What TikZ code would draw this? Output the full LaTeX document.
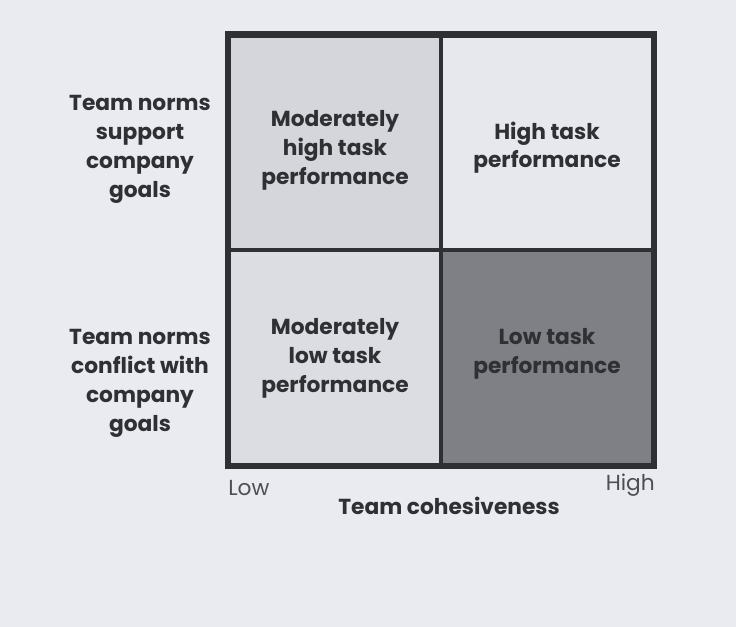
\documentclass[tikz,border=0pt]{standalone}
\usepackage{fontspec}
\setmainfont{Poppins}
\usetikzlibrary{positioning}

\definecolor{paper}{HTML}{E9EBF1}
\definecolor{inkgray}{HTML}{2F3033}
\definecolor{celltl}{HTML}{D4D6DB}
\definecolor{celltr}{HTML}{E6E8ED}
\definecolor{cellbl}{HTML}{DBDDE2}
\definecolor{cellbr}{HTML}{7E8085}

\begin{document}
\begin{tikzpicture}[x=0.75pt,y=-0.75pt,
  % 格子的style
  cell/.style={draw=inkgray,line width=3pt,minimum width=212pt*0.75,minimum height=214.5pt*0.75},
  % 格子里、左边和下面的文字
  side label/.style={align=center,text=inkgray,font=\bfseries\fontsize{16.3}{21.6}\selectfont},
  end label/.style={text=inkgray!85,font=\fontsize{16.3}{20}\selectfont}]

  % 背景
  \fill[paper] (0,0) rectangle (736,627);
  \useasboundingbox (0,0) rectangle (736,627);

  % 四个格子
  \node[cell,fill=celltl] (modhigh) at (335,143) {};
  \node[cell,fill=celltr] (high) at (547,143) {};
  \node[cell,fill=cellbl] (modlow) at (335,357.5) {};
  \node[cell,fill=cellbr] (low) at (547,357.5) {};

  % 外框
  \draw[inkgray,line width=3.5pt] (modhigh.north west) rectangle (low.south east);

  % 格子里的文字
  \node[side label] (modhightext) at ([yshift=-5.5pt]modhigh.center) {Moderately\\high task\\performance};
  \node[side label] (hightext) at ([yshift=-3.5pt]high.center) {High task\\performance};
  \node[side label] (modlowtext) at ([yshift=-0.5pt]modlow.center) {Moderately\\low task\\performance};
  \node[side label] (lowtext) at ([yshift=2.5pt]low.center) {Low task\\performance};

  % 纵轴的文字
  \node[side label] (support) at (140,149.5) {Team norms\\support\\company\\goals};
  \node[side label] (conflict) at (140,383.5) {Team norms\\conflict with\\company\\goals};

  % 横轴的文字
  \node[end label,anchor=west,inner sep=0pt] (lowend) at (228,488) {Low};
  \node[end label,anchor=east,inner sep=0pt] (highend) at (655,485) {High};
  \node[side label] (cohesion) at (449,506) {Team cohesiveness};

\end{tikzpicture}
\end{document}
